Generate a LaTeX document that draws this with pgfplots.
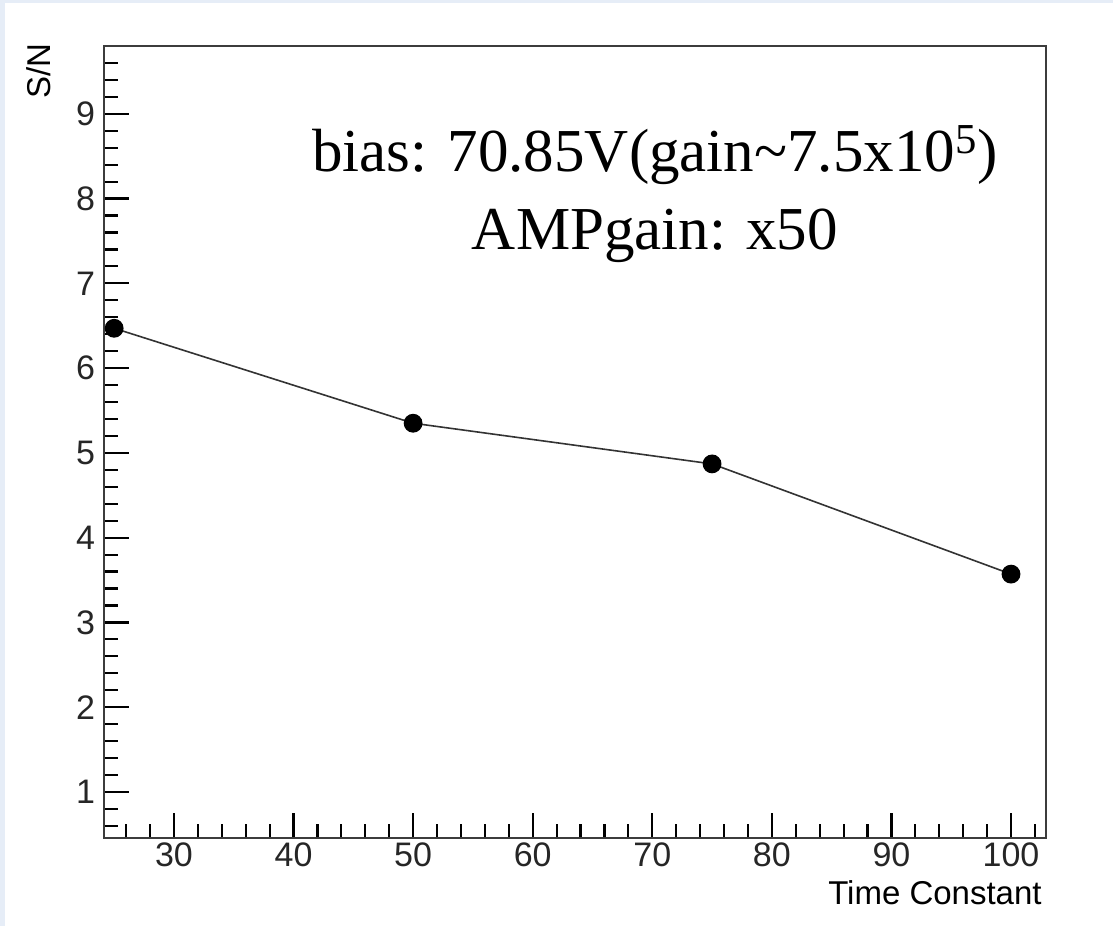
\documentclass[border=0pt]{standalone}
\usepackage{fontspec}
\setmainfont{Liberation Serif}
\newfontfamily\arial{Liberation Sans}
\usepackage{pgfplots}
\pgfplotsset{compat=1.18}
\definecolor{bgblue}{RGB}{230,237,247}
\definecolor{axgray}{RGB}{60,60,60}
\begin{document}
\begin{tikzpicture}
\path[use as bounding box, fill=bgblue] (0,0) rectangle (556.5pt,463pt);
\fill[white] (2.5pt,0) rectangle (556.5pt,461.5pt);
\begin{axis}[
  at={(52pt,44pt)}, anchor=south west,
  scale only axis, width=470.85pt, height=396pt,
  xmin=24.15, xmax=102.9, ymin=0.457, ymax=9.8,
  xtick={30,40,...,100}, ytick={1,2,...,9},
  minor xtick={26,28,...,102},
  minor ytick={0.6,0.8,1.2,1.4,1.6,1.8,2.2,2.4,2.6,2.8,3.2,3.4,3.6,3.8,4.2,4.4,4.6,4.8,5.2,5.4,5.6,5.8,6.2,6.4,6.6,6.8,7.2,7.4,7.6,7.8,8.2,8.4,8.6,8.8,9.2,9.4,9.6},
  tick align=inside, xtick pos=bottom, ytick pos=left,
  major tick length=12.5pt, minor tick length=7pt,
  every tick/.style={black, line width=1.1pt},
  axis line style={axgray, line width=1.2pt},
  /pgf/number format/assume math mode=true,
  tick label style={font=\arial\fontsize{17}{20}\selectfont, text=black!85},
  xticklabel style={yshift=1pt},
  yticklabel style={xshift=-1pt},
]
\addplot[black!80, line width=0.8pt, mark=*, mark size=4.3pt, mark options={fill=black, draw=black}]
  coordinates {(25,6.47) (50,5.35) (75,4.87) (100,3.57)};
\end{axis}
\node[anchor=base, inner sep=0] at (327.5pt,377pt) {\fontsize{30.5}{36}\selectfont bias: 70.85V(gain\textasciitilde7.5x10\textsuperscript{5})};
\node[anchor=base, inner sep=0] at (327.5pt,338pt) {\fontsize{30.5}{36}\selectfont AMPgain: x50};
\node[rotate=90, anchor=base east, inner sep=0] at (25pt,441.5pt) {\arial\fontsize{16.5}{20}\selectfont S/N};
\node[anchor=base east, inner sep=0] at (521pt,11pt) {\arial\fontsize{16.5}{20}\selectfont Time Constant};
\end{tikzpicture}
\end{document}
